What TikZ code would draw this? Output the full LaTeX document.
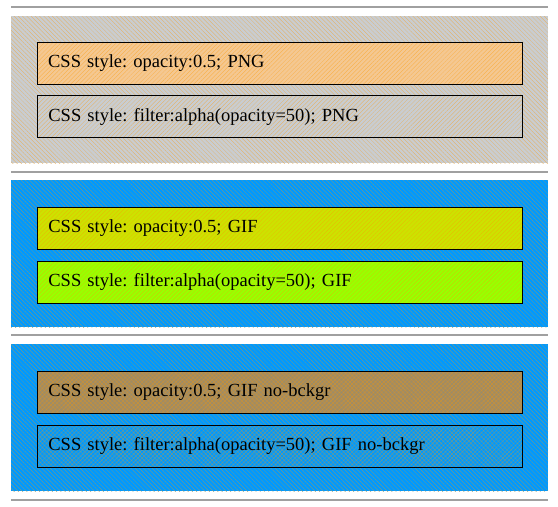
\documentclass[tikz,border=0pt]{standalone}
\usepackage{fontspec}
\setmainfont{Liberation Serif}
\usetikzlibrary{patterns.meta,positioning}
\frenchspacing
\definecolor{panelgray}{RGB}{201,205,209}
\definecolor{panelblue}{RGB}{0,153,255}
\definecolor{hatchorange}{RGB}{255,153,0}
\definecolor{softorange}{RGB}{244,200,146}
\definecolor{olivegreen}{RGB}{205,226,0}
\definecolor{limegreen}{RGB}{153,255,0}
\definecolor{checkbrown}{RGB}{160,140,100}
\definecolor{rulegray}{RGB}{160,160,160}

\tikzset{
  panel/.style={preaction={fill=#1}, pattern={Lines[angle=-45,distance=3pt,line width=0.3pt]}, pattern color=hatchorange!55!#1,
    minimum width=537pt, minimum height=147pt, inner sep=0pt, anchor=north west},
  optbox/.style={draw, line width=0.8pt, preaction={fill=#1}, pattern={Lines[angle=45,distance=3pt,line width=0.3pt]}, pattern color=hatchorange!55!#1,
    text width=463pt, inner xsep=11pt, inner ysep=0pt, minimum height=42pt, align=left, anchor=north west, font=\fontsize{18.5}{21}\selectfont},
  crossbox/.style={optbox=#1, preaction={pattern={Lines[angle=-45,distance=3pt,line width=0.3pt]}, pattern color=hatchorange!55!#1}},
  hrule/.style={rulegray, line width=1.5pt}
}

\begin{document}
\begin{tikzpicture}[x=1pt, y=-1pt]
  \useasboundingbox[fill=white] (0,0) rectangle (558,507);
  % separating rules
  \foreach \ry in {7,172,335,500}
    \draw[hrule] (11,\ry) -- (548,\ry);

  % PNG panel
  \node[panel=panelgray] (pngpanel) at (11,16) {};
  \node[optbox=softorange] (pngopacity) at ([xshift=26pt, yshift=-26pt]pngpanel.north west) {CSS style: opacity:0.5; PNG};
  \node[optbox=panelgray, below=11pt of pngopacity.south west, anchor=north west] (pngfilter) {CSS style: filter:alpha(opacity=50); PNG};

  % GIF panel
  \node[panel=panelblue] (gifpanel) at (11,180) {};
  \node[optbox=olivegreen] (gifopacity) at ([xshift=26pt, yshift=-27pt]gifpanel.north west) {CSS style: opacity:0.5; GIF};
  \node[optbox=limegreen, below=11pt of gifopacity.south west, anchor=north west] (giffilter) {CSS style: filter:alpha(opacity=50); GIF};

  % GIF panel, no background
  \node[panel=panelblue] (nobgpanel) at (11,344) {};
  \node[crossbox=checkbrown] (nobgopacity) at ([xshift=26pt, yshift=-27pt]nobgpanel.north west) {CSS style: opacity:0.5; GIF no-bckgr};
  \node[crossbox=panelblue, below=11pt of nobgopacity.south west, anchor=north west] (nobgfilter) {CSS style: filter:alpha(opacity=50); GIF no-bckgr};
\end{tikzpicture}
\end{document}
